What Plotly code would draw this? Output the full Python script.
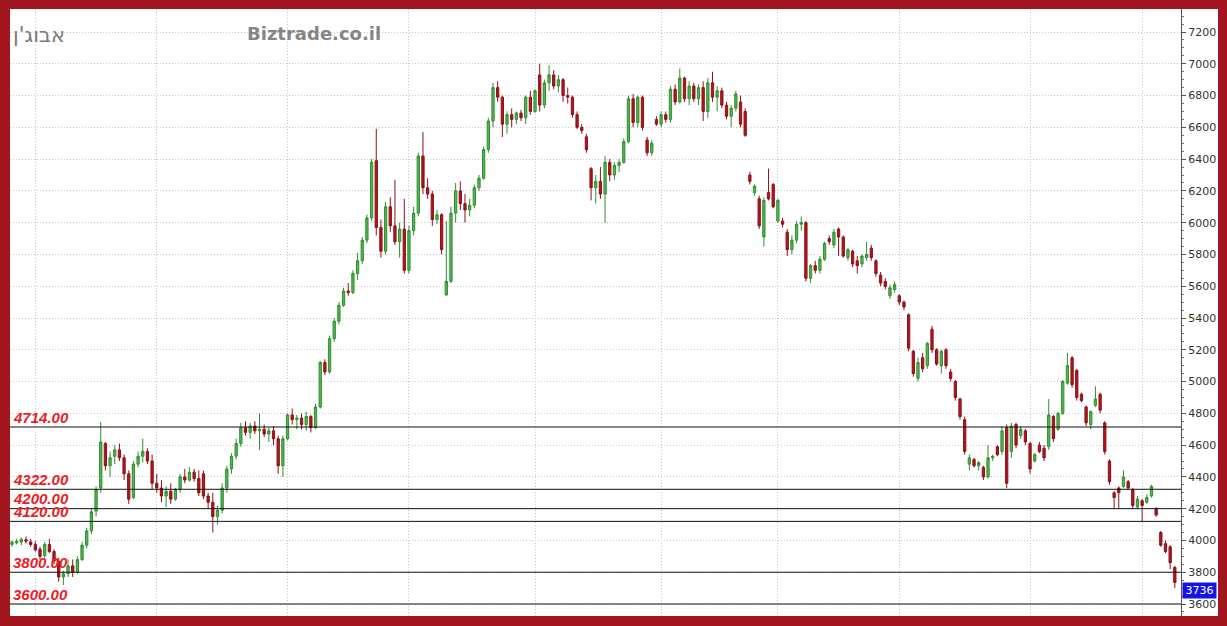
import plotly.graph_objects as go

# ---- data ----
opens = [
    3975,3985,3990,4005,3990,3975,3945,3905,3975,3930,
    3870,3770,3790,3840,3800,3880,3970,4060,4185,4330,
    4610,4470,4530,4570,4520,4420,4270,4480,4530,4560,
    4500,4360,4330,4280,4310,4260,4320,4400,4380,4430,
    4390,4420,4280,4240,4150,4190,4330,4450,4530,4610,
    4710,4680,4720,4690,4700,4670,4690,4640,4470,4640,
    4790,4760,4770,4730,4780,4710,4840,5120,5060,5270,
    5380,5480,5570,5560,5680,5760,5890,6030,6390,5970,
    5820,6100,5980,5880,5960,5700,5950,6060,6420,6220,
    6180,6020,6050,5545,5630,6060,6200,6120,6080,6110,
    6220,6280,6460,6640,6850,6790,6620,6680,6650,6690,
    6660,6790,6700,6930,6740,6880,6930,6860,6900,6800,
    6790,6680,6600,6540,6340,6220,6260,6180,6380,6300,
    6360,6380,6510,6780,6630,6790,6520,6440,6650,6620,
    6680,6650,6840,6760,6910,6780,6860,6780,6850,6700,
    6880,6790,6830,6740,6670,6720,6760,6700,6300,6190,
    6150,5910,6190,6240,6010,6010,5940,5830,5890,5990,
    6000,5650,5730,5700,5770,5900,5860,5960,5910,5780,
    5820,5760,5740,5780,5840,5760,5670,5630,5540,5580,
    5540,5500,5420,5190,5020,5150,5100,5330,5200,5100,
    5200,5060,5000,4890,4760,4480,4510,4470,4460,4400,
    4520,4590,4560,4710,4560,4730,4660,4690,4610,4500,
    4600,4580,4590,4780,4700,4800,4990,5150,5070,4920,
    4840,4730,4850,4920,4740,4500,4300,4330,4340,4370,
    4320,4210,4250,4240,4280,4200,4050,3980,3960,3830,
]
highs = [
    4000,4010,4020,4025,4010,3995,3960,3990,4010,3945,
    3890,3810,3880,3880,3900,3990,4080,4200,4340,4745,
    4620,4560,4600,4610,4540,4440,4500,4560,4640,4580,
    4540,4420,4380,4340,4360,4330,4420,4450,4460,4450,
    4440,4440,4300,4300,4220,4360,4470,4550,4640,4740,
    4750,4740,4750,4800,4730,4710,4720,4660,4660,4800,
    4830,4790,4800,4810,4790,4860,5130,5140,5290,5400,
    5500,5590,5620,5700,5810,5910,6050,6400,6590,6020,
    6130,6160,6270,6000,6150,5980,6100,6440,6570,6280,
    6200,6080,6060,6010,6100,6250,6260,6180,6150,6240,
    6300,6480,6660,6880,6890,6800,6700,6720,6700,6710,
    6800,6830,6840,7000,6900,6990,6960,6930,6910,6850,
    6800,6700,6620,6560,6350,6300,6350,6420,6400,6380,
    6400,6530,6800,6810,6800,6800,6540,6520,6670,6700,
    6700,6860,6870,6970,6920,6890,6880,6870,6890,6910,
    6950,6860,6850,6760,6740,6830,6800,6720,6320,6240,
    6170,6160,6340,6250,6150,6030,5960,5920,6010,6040,
    6010,5740,5760,5790,5880,5920,5960,5970,5920,5840,
    5830,5790,5800,5880,5860,5770,5690,5650,5610,5630,
    5550,5510,5430,5200,5150,5180,5250,5350,5210,5200,
    5210,5080,5010,4900,4780,4540,4520,4500,4470,4600,
    4540,4600,4720,4730,4740,4740,4720,4700,4620,4550,
    4620,4600,4890,4790,4810,5010,5180,5160,5080,4930,
    4850,4820,4970,4930,4750,4510,4310,4340,4440,4380,
    4330,4280,4260,4290,4350,4210,4060,4000,3970,3840,
]
lows = [
    3960,3975,3970,3980,3960,3930,3880,3890,3920,3850,
    3740,3720,3770,3770,3790,3870,3950,4040,4150,4300,
    4440,4400,4480,4500,4380,4230,4260,4460,4490,4480,
    4320,4300,4240,4210,4230,4250,4300,4360,4370,4370,
    4280,4260,4200,4050,4100,4170,4300,4420,4510,4590,
    4660,4640,4670,4570,4650,4620,4600,4420,4400,4630,
    4730,4700,4700,4690,4680,4700,4830,5040,5050,5250,
    5360,5470,5540,5550,5640,5740,5870,6010,5920,5780,
    5800,5940,5860,5780,5680,5680,5920,6040,6180,6150,
    5980,5990,5800,5540,5620,6000,6080,6000,6040,6090,
    6200,6270,6440,6600,6760,6540,6560,6600,6620,6640,
    6620,6680,6690,6700,6720,6830,6840,6820,6760,6750,
    6660,6590,6560,6440,6140,6120,6150,6000,6260,6270,
    6320,6370,6500,6600,6600,6580,6420,6420,6610,6600,
    6630,6630,6740,6750,6760,6740,6760,6740,6640,6660,
    6760,6700,6720,6650,6600,6700,6600,6540,6240,6170,
    5960,5850,6140,6090,6000,5970,5790,5800,5870,5950,
    5630,5620,5680,5680,5760,5860,5840,5790,5780,5760,
    5720,5680,5720,5760,5760,5660,5600,5580,5520,5560,
    5480,5450,5190,5030,5000,5060,5080,5180,5100,5050,
    5080,5000,4880,4760,4540,4440,4460,4440,4380,4390,
    4500,4530,4540,4330,4520,4580,4640,4600,4420,4490,
    4550,4500,4570,4620,4690,4790,4980,4960,4880,4870,
    4720,4700,4840,4800,4540,4350,4200,4200,4330,4320,
    4200,4200,4120,4230,4270,4150,3960,3920,3820,3700,
]
closes = [
    3990,3995,4005,3995,3975,3940,3900,3975,3930,3870,
    3770,3790,3840,3800,3880,3970,4060,4180,4320,4620,
    4470,4520,4570,4520,4420,4260,4480,4530,4560,4500,
    4360,4330,4280,4310,4260,4320,4400,4380,4430,4390,
    4300,4280,4240,4150,4190,4330,4450,4530,4610,4710,
    4680,4720,4690,4700,4670,4690,4640,4470,4640,4790,
    4760,4770,4730,4780,4710,4840,5120,5060,5270,5380,
    5480,5570,5560,5680,5760,5890,6030,6380,5970,5820,
    6100,5980,5880,5960,5700,5950,6060,6420,6220,6180,
    6020,6050,5830,5630,6060,6200,6120,6080,6110,6220,
    6280,6460,6640,6850,6790,6620,6680,6650,6690,6660,
    6790,6700,6830,6740,6880,6930,6860,6900,6800,6790,
    6680,6600,6580,6460,6220,6260,6180,6380,6300,6360,
    6380,6510,6780,6630,6790,6600,6440,6500,6620,6680,
    6650,6840,6760,6910,6780,6860,6780,6850,6700,6880,
    6790,6830,6740,6670,6720,6810,6620,6550,6260,6230,
    5980,6140,6150,6100,6140,5990,5830,5890,5990,6000,
    5650,5730,5700,5770,5870,5880,5940,5910,5790,5830,
    5740,5730,5790,5800,5780,5680,5620,5600,5590,5610,
    5500,5470,5210,5050,5120,5080,5240,5200,5110,5190,
    5100,5020,4900,4780,4560,4520,4470,4490,4400,4520,
    4530,4540,4690,4360,4720,4600,4700,4620,4450,4540,
    4560,4520,4790,4640,4800,5000,5100,4980,4900,4880,
    4740,4810,4890,4820,4560,4370,4270,4300,4400,4330,
    4220,4260,4220,4270,4340,4160,3970,3930,3860,3736,
]
bars = list(range(len(closes)))

# month boundaries (bar index) -> vertical grid lines
month_starts = [5, 31, 59, 85, 112, 139, 164, 190, 218, 242]

levels = [4714, 4322, 4200, 4120, 3800, 3600]
y_ticks = list(range(3600, 7201, 200))
last_price = closes[-1]

title_he = "אבוג'ן"
watermark = "Biztrade.co.il"

# ---- figure ----
W, H = 1227, 626
ML, MR, MT, MB = 10, 46, 9, 10
pw = W - ML - MR
ph = H - MT - MB
BORDER = "#a3161f"

fig = go.Figure()
fig.add_trace(go.Candlestick(
    x=bars, open=opens, high=highs, low=lows, close=closes,
    increasing=dict(fillcolor="#55b455", line=dict(color="#2f8f2f", width=1)),
    decreasing=dict(fillcolor="#b3141d", line=dict(color="#8c1118", width=1)),
    whiskerwidth=0, showlegend=False, hoverinfo="skip",
))

shapes = []
for lv in levels:
    shapes.append(dict(type="line", xref="paper", yref="y", x0=0, x1=1, y0=lv, y1=lv,
                       line=dict(color="#111111", width=1), layer="above"))


def px_x(p):
    return (p - ML) / pw


def px_y(p):
    return (H - MB - p) / ph


# red frame
frame = [
    (0, 0, W, 9),
    (0, 0, 10, H),
    (1218, 0, W, H),
    (0, 616, W, H),
]
for x0, y0, x1, y1 in frame:
    shapes.append(dict(type="rect", xref="paper", yref="paper",
                       x0=px_x(x0), x1=px_x(x1), y0=px_y(y1), y1=px_y(y0),
                       line=dict(width=0), fillcolor=BORDER, layer="above"))

annotations = []
for lv in levels:
    annotations.append(dict(
        xref="paper", yref="y", x=px_x(11), y=lv, xanchor="left", yanchor="middle",
        yshift=10, showarrow=False, text=f"{lv:.2f}",
        font=dict(family="Liberation Sans", size=15, color="#ec1c24",
                  weight="bold", style="italic"),
    ))

annotations.append(dict(
    xref="paper", yref="paper", x=px_x(11), y=px_y(35), xanchor="left", yanchor="middle",
    showarrow=False, text=title_he,
    font=dict(family="DejaVu Sans", size=21, color="#7a7a7a"),
))
annotations.append(dict(
    xref="paper", yref="paper", x=px_x(245), y=px_y(34), xanchor="left", yanchor="middle",
    showarrow=False, text=watermark,
    font=dict(family="DejaVu Sans", size=18, color="#858585", weight="bold"),
))
annotations.append(dict(
    xref="paper", yref="y", x=px_x(1182), y=last_price, xanchor="left", yanchor="top",
    showarrow=False, text=str(last_price), bgcolor="#1414e6", borderpad=1, width=31,
    font=dict(family="DejaVu Sans", size=11, color="#ffffff"),
))

fig.update_layout(
    width=W, height=H,
    margin=dict(l=ML, r=MR, t=MT, b=MB, pad=0),
    paper_bgcolor="#ffffff", plot_bgcolor="#ffffff",
    shapes=shapes, annotations=annotations,
    xaxis=dict(
        range=[(ML - 12) / 4.67, (W - MR - 12) / 4.67],
        rangeslider=dict(visible=False),
        tickvals=month_starts, showticklabels=False, ticks="",
        showgrid=True, gridcolor="#c8c8c8", griddash="1px,2px", gridwidth=1,
        zeroline=False, showline=False, fixedrange=True,
    ),
    yaxis=dict(
        side="right", range=[3524.5, 7344.8],
        tickvals=y_ticks, ticktext=[str(v) for v in y_ticks],
        ticks="outside", ticklen=4, tickcolor="#555555",
        minor=dict(dtick=50, tick0=0, ticks="outside", ticklen=2, tickcolor="#777777", showgrid=False),
        showgrid=True, gridcolor="#c8c8c8", griddash="1px,2px", gridwidth=1,
        showline=True, linecolor="#555555", linewidth=1,
        zeroline=False,
        tickfont=dict(family="DejaVu Sans", size=11, color="#333333"),
    ),
)

fig.write_html(
    "out.html",
    config={"displayModeBar": False},
    post_script="document.body.style.margin='0';document.body.style.overflow='hidden';",
)
